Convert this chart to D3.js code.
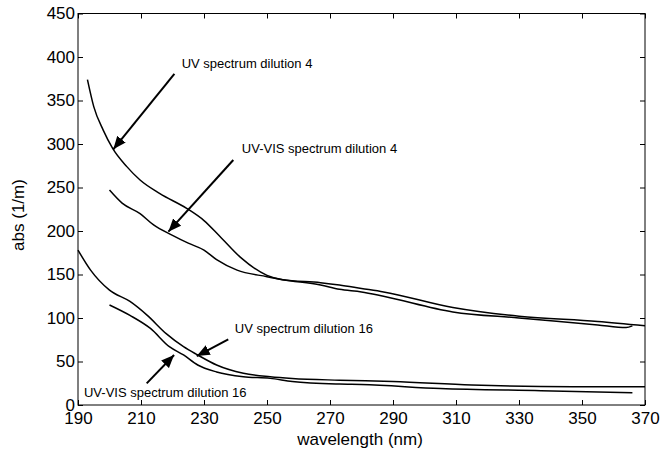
<!DOCTYPE html>
<html>
<head>
<meta charset="utf-8">
<script src="https://cdn.jsdelivr.net/npm/d3@7"></script>
<style>
  body { margin: 0; background: #fff; }
  svg { display: block; font-family: Arial, "Liberation Sans", sans-serif; }
</style>
</head>
<body>
<svg id="chart" width="660" height="452"></svg>
<script>
// spectra: wavelength (nm) and abs (1/m)
const uvD4Wl = [193, 195, 198, 201, 205.5, 209.7, 216, 224.5, 230, 235, 241.5, 250, 255, 267, 273, 280, 287, 309, 330, 355, 370];
const uvD4Abs = [374, 343, 316, 295, 274, 258.6, 243, 226, 212, 194, 170, 149, 144, 140.6, 138, 134, 130, 112, 102, 96, 91];

const uvvisD4Wl = [200, 204, 209.7, 214, 220, 225, 230, 234, 240.5, 250, 255, 267, 273, 280, 287, 309, 330, 355, 364, 366];
const uvvisD4Abs = [247, 232, 220, 207, 195, 186, 178, 167, 155, 147.5, 144, 138, 133, 130, 125, 107, 100, 92, 89, 91];

const uvD16Wl = [190, 194, 200, 206.5, 212, 218, 223.5, 228, 234, 242.5, 251, 258, 273, 290, 315, 347, 370];
const uvD16Abs = [178, 155, 132, 119, 103, 82, 67, 57.5, 46, 36.5, 32.5, 30.5, 28.5, 27, 23, 21, 21];

const uvvisD16Wl = [200, 206.5, 213, 219, 223.5, 228, 234, 242.5, 251, 258, 273, 280, 305, 337, 366];
const uvvisD16Abs = [115, 103, 88, 67, 57.5, 46, 38, 32.5, 30.6, 27, 24, 23.5, 19, 16.5, 14];

const xTicks = [190, 210, 230, 250, 270, 290, 310, 330, 350, 370];
const yTicks = [0, 50, 100, 150, 200, 250, 300, 350, 400, 450];

// annotation labels, anchored in data coordinates
const noteLabels = ["UV spectrum dilution 4", "UV-VIS spectrum dilution 4", "UV spectrum dilution 16", "UV-VIS spectrum dilution 16"];
const noteText = [[222.9, 387], [242.0, 289.3], [239.8, 83.1], [191.9, 9.5]];
const noteFrom = [[220.6, 380.5], [239.3, 281.6], [237.7, 75.5], [211.8, 24.9]];
const noteTo = [[201.2, 293.9], [218.7, 199.2], [227.7, 56.3], [220.5, 57.5]];

const margin = { top: 13.5, right: 15, bottom: 47, left: 78 };
const width = 660 - margin.left - margin.right;
const height = 452 - margin.top - margin.bottom;

const svg = d3.select("#chart");
const g = svg.append("g").attr("transform", `translate(${margin.left},${margin.top})`);

const x = d3.scaleLinear().domain([190, 370]).range([0, width]);
const y = d3.scaleLinear().domain([0, 450]).range([height, 0]);

// axes, ticks pointing inward on all four sides
g.append("g")
  .attr("transform", `translate(0,${height})`)
  .call(d3.axisBottom(x).tickValues(xTicks).tickSizeInner(-5).tickSizeOuter(0).tickPadding(7));
g.append("g")
  .call(d3.axisTop(x).tickValues(xTicks).tickSizeInner(-5).tickSizeOuter(0).tickFormat(""));
g.append("g")
  .call(d3.axisLeft(y).tickValues(yTicks).tickSizeInner(-5).tickSizeOuter(0).tickPadding(3));
g.append("g")
  .attr("transform", `translate(${width},0)`)
  .call(d3.axisRight(y).tickValues(yTicks).tickSizeInner(-5).tickSizeOuter(0).tickFormat(""));

g.selectAll(".domain").remove();
g.selectAll(".tick line").attr("stroke", "#000");
g.selectAll(".tick text").attr("fill", "#000").style("font-size", "17px");

g.append("rect")
  .attr("width", width)
  .attr("height", height)
  .attr("fill", "none")
  .attr("stroke", "#000")
  .attr("stroke-width", 1);

// curves
const series = [
  [uvD4Wl, uvD4Abs],
  [uvvisD4Wl, uvvisD4Abs],
  [uvD16Wl, uvD16Abs],
  [uvvisD16Wl, uvvisD16Abs]
];
const line = d3.line()
  .x(d => x(d[0]))
  .y(d => y(d[1]))
  .curve(d3.curveMonotoneX);

g.append("g")
  .selectAll("path")
  .data(series.map(s => d3.zip(s[0], s[1])))
  .join("path")
  .attr("d", line)
  .attr("fill", "none")
  .attr("stroke", "#000")
  .attr("stroke-width", 1.5);

// arrows + labels
svg.append("defs").append("marker")
  .attr("id", "head")
  .attr("markerUnits", "userSpaceOnUse")
  .attr("viewBox", "0 0 12 10")
  .attr("refX", 12)
  .attr("refY", 5)
  .attr("markerWidth", 13)
  .attr("markerHeight", 11)
  .attr("orient", "auto")
  .append("path")
  .attr("d", "M0,0L12,5L0,10Z")
  .attr("fill", "#000");

const notes = g.append("g");
notes.selectAll("line")
  .data(d3.range(noteLabels.length))
  .join("line")
  .attr("x1", i => x(noteFrom[i][0]))
  .attr("y1", i => y(noteFrom[i][1]))
  .attr("x2", i => x(noteTo[i][0]))
  .attr("y2", i => y(noteTo[i][1]))
  .attr("stroke", "#000")
  .attr("stroke-width", 2)
  .attr("marker-end", "url(#head)");

notes.selectAll("text")
  .data(d3.range(noteLabels.length))
  .join("text")
  .attr("x", i => x(noteText[i][0]))
  .attr("y", i => y(noteText[i][1]))
  .style("font-size", "13px")
  .attr("fill", "#000")
  .text(i => noteLabels[i]);

// axis titles
svg.append("text")
  .attr("x", 360)
  .attr("y", 445)
  .attr("text-anchor", "middle")
  .style("font-size", "17px")
  .text("wavelength (nm)");

svg.append("text")
  .attr("transform", "translate(24,215) rotate(-90)")
  .attr("text-anchor", "middle")
  .style("font-size", "17px")
  .text("abs (1/m)");
</script>
</body>
</html>
